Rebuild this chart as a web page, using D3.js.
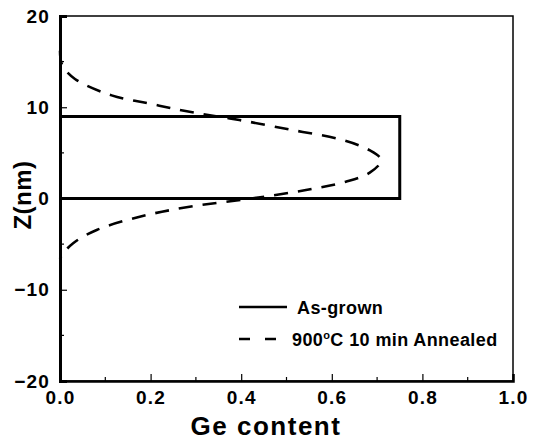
<!DOCTYPE html>
<html>
<head>
<meta charset="utf-8">
<script src="https://cdn.jsdelivr.net/npm/d3@7"></script>
<style>
  body { margin: 0; background: #fff; }
  text { font-family: "Liberation Sans", Arial, sans-serif; font-weight: bold; fill: #000; }
</style>
</head>
<body>
<div id="chart"></div>
<script>
width = 535
height = 443

// as-grown step profile
let asGrownX = [0, 0.75, 0.75, 0]
let asGrownZ = [0, 0, 9, 9]

// annealed profile (900C, 10 min)
let annealX = [0, 0.005, 0.033, 0.114, 0.198, 0.286, 0.396, 0.513, 0.617, 0.683, 0.709, 0.683, 0.631, 0.543, 0.426, 0.286, 0.176, 0.081, 0.029, 0.004, 0]
let annealZ = [16.2, 14.6, 13.1, 11.3, 10.4, 9.5, 8.6, 7.5, 6.5, 5.3, 4.2, 2.8, 1.84, 0.93, 0.02, -0.9, -2.0, -3.45, -4.9, -6.2, -6.6]

let xTicks = [0, 0.2, 0.4, 0.6, 0.8, 1.0]
let xMinor = [0.1, 0.3, 0.5, 0.7, 0.9]
let yTicks = [-20, -10, 0, 10, 20]
let yMinor = [-15, -5, 5, 15]

let legendLabels = ["As-grown", "900°C 10 min Annealed"]

let margin = {left: 60, top: 16, right: 22, bottom: 62}

let svg = d3.select("#chart")
    .append("svg")
    .attr("width", width)
    .attr("height", height)

svg.append("rect").attr("width", width).attr("height", height).attr("fill", "#fff")

let x = d3.scaleLinear().domain([0, 1]).range([margin.left, width - margin.right])
let y = d3.scaleLinear().domain([-20, 20]).range([height - margin.bottom, margin.top])

// frame
svg.append("rect")
    .attr("x", x(0)).attr("y", y(20))
    .attr("width", x(1) - x(0)).attr("height", y(-20) - y(20))
    .attr("fill", "none").attr("stroke", "#000").attr("stroke-width", 1.5)

let xAxis = svg.append("g")
    .attr("transform", "translate(0," + y(-20) + ")")
    .call(d3.axisBottom(x).tickValues(xTicks).tickSize(-7).tickPadding(10).tickFormat(d3.format(".1f")))
xAxis.append("g").selectAll("line").data(xMinor).join("line")
    .attr("x1", d => x(d)).attr("x2", d => x(d)).attr("y1", 0).attr("y2", -4)
    .attr("stroke", "#000").attr("stroke-width", 1.2)
xAxis.select(".domain").attr("stroke-width", 2.5)
xAxis.selectAll(".tick line").attr("stroke-width", 1.2)

let yAxis = svg.append("g")
    .attr("transform", "translate(" + x(0) + ",0)")
    .call(d3.axisLeft(y).tickValues(yTicks).tickSize(-7).tickPadding(10))
yAxis.append("g").selectAll("line").data(yMinor).join("line")
    .attr("y1", d => y(d)).attr("y2", d => y(d)).attr("x1", 0).attr("x2", 4)
    .attr("stroke", "#000").attr("stroke-width", 1.2)
yAxis.select(".domain").attr("stroke-width", 3)
yAxis.selectAll(".tick line").attr("stroke-width", 1.2)

svg.selectAll(".tick text")
    .style("font-size", "19px")
    .style("letter-spacing", "1.2px")
    .style("font-family", "'Liberation Sans', Arial, sans-serif")
    .style("font-weight", "bold")

// curves
let line = d3.line().x(d => x(d[0])).y(d => y(d[1]))

svg.append("path")
    .datum(d3.zip(asGrownX, asGrownZ))
    .attr("d", line)
    .attr("fill", "none").attr("stroke", "#000").attr("stroke-width", 3)

svg.append("path")
    .datum(d3.zip(annealX, annealZ))
    .attr("d", line.curve(d3.curveCatmullRom))
    .attr("fill", "none").attr("stroke", "#000").attr("stroke-width", 2.6)
    .attr("stroke-dasharray", "14,10")

// legend
let legend = svg.append("g").attr("transform", "translate(239,307)")
legend.append("line").attr("x1", 0).attr("x2", 48).attr("y1", 0).attr("y2", 0)
    .attr("stroke", "#000").attr("stroke-width", 2.5)
legend.append("text").attr("x", 58).attr("y", 6.5)
    .style("font-size", "18px").style("letter-spacing", "0.4px")
    .text(legendLabels[0])
legend.append("line").attr("x1", 0).attr("x2", 38).attr("y1", 32).attr("y2", 32)
    .attr("stroke", "#000").attr("stroke-width", 2.6).attr("stroke-dasharray", "11,15")
let t2 = legend.append("text").attr("x", 53).attr("y", 39)
    .style("font-size", "18px").style("letter-spacing", "0.4px")
t2.append("tspan").text("900")
t2.append("tspan").attr("dy", -7).style("font-size", "11px").text("o")
t2.append("tspan").attr("dy", 7).text("C 10 min Annealed")

// axis titles
svg.append("text")
    .attr("x", 266).attr("y", 435)
    .attr("text-anchor", "middle")
    .style("font-size", "26px").style("letter-spacing", "1.5px")
    .text("Ge content")

svg.append("text")
    .attr("transform", "translate(31,195) rotate(-90)")
    .attr("text-anchor", "middle")
    .style("font-size", "24px").style("letter-spacing", "0.5px")
    .text("Z(nm)")
</script>
</body>
</html>
